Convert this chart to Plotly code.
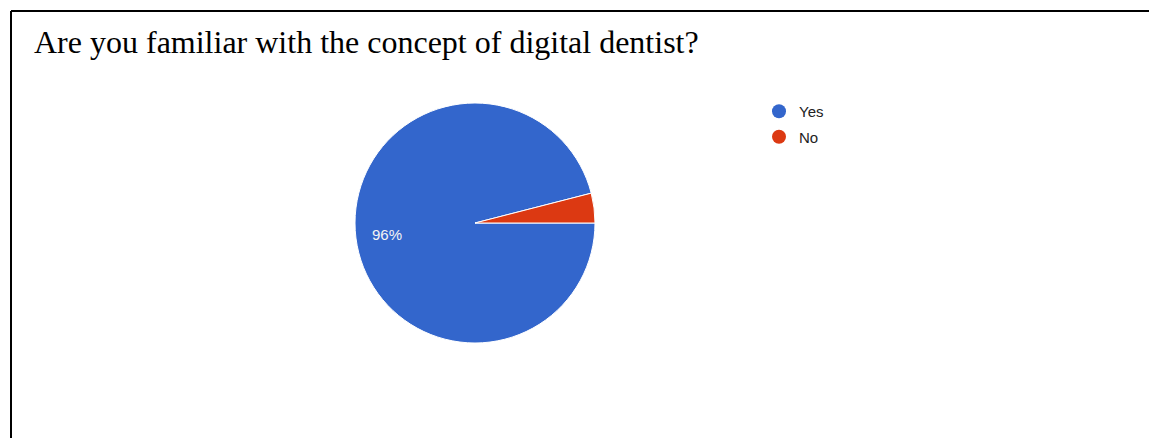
import math
import plotly.graph_objects as go

labels = ["Yes", "No"]
values = [96, 4]
colors = ["#3366CC", "#DC3912"]
title_text = "Are you familiar with the concept of digital dentist?"

W, H = 1157, 438
OX, OY = 8, 7  # page body offset

# pie geometry (screen px)
cx, cy, r = 475 - OX, 223 - 8, 120
rotation = 90

fig = go.Figure()
fig.add_trace(go.Pie(
    labels=labels, values=values,
    textinfo="none",
    marker=dict(colors=colors, line=dict(color="white", width=1)),
    sort=False, direction="clockwise", rotation=rotation,
    showlegend=False, hoverinfo="label+percent",
    domain=dict(x=[(cx - r) / W, (cx + r) / W], y=[1 - (cy + r) / H, 1 - (cy - r) / H]),
))
for lab, col in zip(labels, colors):
    fig.add_trace(go.Scatter(
        x=[None], y=[None], mode="markers", name=lab, legendgroup=lab,
        marker=dict(color=col, size=14, symbol="circle"),
    ))

# slice labels (only slices large enough, like Google Charts)
annotations = []
total = sum(values)
start = 90 - (rotation - 0)  # math angle of 3 o'clock when rotation=90 -> 0 deg
acc = 0
for v in values:
    frac = v / total
    mid = start - 360 * (acc + frac / 2)
    acc += frac
    if frac < 0.05:
        continue
    rr = 0.74 * r
    px = cx + rr * math.cos(math.radians(mid))
    py = cy - rr * math.sin(math.radians(mid))
    annotations.append(dict(text=f"{round(frac * 100)}%", x=px / W, y=1 - py / H,
                            xref="paper", yref="paper", xanchor="center", yanchor="middle",
                            showarrow=False,
                            font=dict(family="Liberation Sans, Arial", size=15, color="#F4F4F4")))

annotations.append(dict(text=title_text, x=(32 - OX) / W, y=1 - (41 - OY) / H, xref="paper", yref="paper",
                        xanchor="left", yanchor="middle", showarrow=False,
                        font=dict(family="Liberation Serif, Times New Roman", size=32, color="black")))

fig.update_layout(
    width=W, height=H,
    margin=dict(l=0, r=0, t=0, b=0),
    paper_bgcolor="white", plot_bgcolor="white",
    xaxis=dict(visible=False), yaxis=dict(visible=False),
    legend=dict(x=(759 - OX) / W, y=1 - (94 - OY) / H, xanchor="left", yanchor="top",
                font=dict(family="Liberation Sans, Arial", size=15, color="#222222"),
                itemsizing="trace", tracegroupgap=3, bgcolor="rgba(0,0,0,0)"),
    annotations=annotations,
    shapes=[
        dict(type="line", xref="paper", yref="paper", x0=(11 - OX) / W, x1=1.0,
             y0=1 - (10 - OY) / H, y1=1 - (10 - OY) / H, line=dict(color="black", width=2)),
        dict(type="line", xref="paper", yref="paper", x0=(11 - OX) / W, x1=(11 - OX) / W,
             y0=1 - (10 - OY) / H, y1=0, line=dict(color="black", width=2)),
    ],
)

fig.write_html("out.html")
